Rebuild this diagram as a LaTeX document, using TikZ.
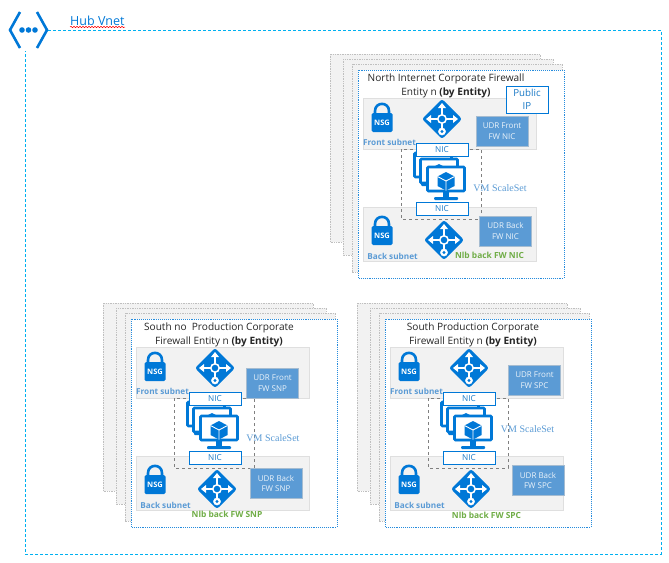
\documentclass[tikz,border=0pt]{standalone}
\usepackage{fontspec}
\setmainfont{Open Sans}
\newfontfamily\vmfont{Liberation Serif}
\usetikzlibrary{decorations.pathmorphing}

\definecolor{azure}{HTML}{0078D7}
\definecolor{udrblue}{HTML}{5B9BD5}
\definecolor{nlbgreen}{HTML}{70AD47}
\definecolor{hubcyan}{HTML}{00B0F0}
\definecolor{subnetgray}{HTML}{F2F2F2}

\tikzset{
  stackframe/.style={draw=gray!50,densely dotted,fill=subnetgray,line width=.7pt},
  mainframe/.style={draw=azure!85!white,densely dotted,fill=white,line width=.9pt},
  subnetbox/.style={draw=gray!25,fill=subnetgray,line width=.8pt,inner sep=0pt,minimum width=173pt},
  udrbox/.style={draw=udrblue!60!gray!60,fill=udrblue,text=white!88!udrblue,line width=.8pt,inner sep=0pt,
    minimum width=52pt,minimum height=30pt,align=center,font=\fontsize{8}{10.5}\selectfont},
  nicbox/.style={draw=azure,fill=white,text=azure!80!gray,line width=.7pt,inner sep=0pt,
    minimum width=52pt,minimum height=13pt,font=\fontsize{8.2}{9}\selectfont},
  subnetlabel/.style={text=udrblue,inner sep=0pt,font=\fontsize{8.2}{9}\selectfont\bfseries},
  nlblabel/.style={text=nlbgreen,inner sep=0pt,font=\fontsize{8.4}{9}\selectfont\bfseries},
  vmlabel/.style={text=udrblue,inner sep=0pt,font=\vmfont\fontsize{10}{11}\selectfont},
  titlelabel/.style={text=black!85,inner sep=0pt,align=center,font=\fontsize{10.1}{14}\selectfont},
  nsg/.pic={
    \draw[azure,line width=2.6pt] (-7,-8) -- (-7,-11) .. controls (-7,-20.5) and (7,-20.5) .. (7,-11) -- (7,-8);
    \fill[azure,rounded corners=1.5pt] (-10.5,-9) rectangle (10.5,10);
    \node[text=white,inner sep=0pt,font=\fontsize{7.5}{8}\selectfont\bfseries] (-nsgtext) at (0,1) {NSG};
  },
  router/.pic={
    \fill[azure,rounded corners=2.5pt] (-20,0) -- (0,-20) -- (20,0) -- (0,20) -- cycle;
    \draw[white,line width=1.5pt] (0,-4) -- (0,-12) (-4,0) -- (-12,0) (4,0) -- (12,0) (0,4) -- (0,9);
    \fill[white] (0,-16) -- (-4,-11) -- (4,-11) -- cycle;
    \fill[white] (-16,0) -- (-11,-4) -- (-11,4) -- cycle;
    \fill[white] (16,0) -- (11,-4) -- (11,4) -- cycle;
    \draw[white,line width=1.5pt] (0,0) circle (4.2);
    \draw[white,fill=white] (0,12.5) circle (3.6);
    \fill[azure] (0,12.5) circle (1.6);
  },
  vmunit/.pic={
    \draw[azure,fill=white,line width=2.6pt,rounded corners=1pt] (-18.5,-12) rectangle (18.5,12);
    \fill[azure] (-3,12) rectangle (3,20);
    \fill[azure,rounded corners=1pt] (-12,18) rectangle (12,21);
    % cube
    \fill[azure] (0,-7) -- (8.5,-2.5) -- (8.5,7) -- (0,11.5) -- (-8.5,7) -- (-8.5,-2.5) -- cycle;
    \draw[white,line width=.9pt] (-8.5,-2.5) -- (0,2) -- (8.5,-2.5) (0,2) -- (0,11.5);
  }
}

% #1 name, #2 shift, #3 title, #4 udr front, #5 udr back, #6 suffix, #7 nlb label, #8 scaleset label
\newcommand{\fwblock}[8]{
  \begin{scope}[shift={(#2)}]
    \draw[stackframe] (330,54) rectangle (540,242);
    \draw[stackframe] (343,59) rectangle (553,255);
    \draw[stackframe] (352,64) rectangle (562,272);
    \draw[mainframe] (358,70) rectangle (564,278);
    \node[titlelabel] (#1-title) at (446,86.2) {#3};

    \node[subnetbox,minimum height=51pt] (#1-front) at (449.5,123.5) {};
    \node[subnetbox,minimum height=54pt] (#1-back) at (449.5,234) {};
    \draw[gray,dashed,line width=.8pt] (401,149) rectangle (481,219);

    \pic at (382,122) {nsg};
    \pic at (382,235) {nsg};
    \pic at (442,119) {router};
    \pic at (444,240) {router};
    \node[udrbox] (#1-udrfront) at (#4) {UDR Front\\#6};
    \node[udrbox] (#1-udrback) at (#5) {UDR Back\\#6};

    \foreach \vmx/\vmy in {433/165, 439/171, 446/179}
      \pic at (\vmx,\vmy) {vmunit};
    \node[nicbox] (#1-nictop) at (442,149.5) {NIC};
    \node[nicbox] (#1-nicbot) at (442,208.5) {NIC};

    \node[subnetlabel] (#1-frontlabel) at (389.5,142.5) {Front subnet};
    \node[subnetlabel] (#1-backlabel) at (392.5,256) {Back subnet};
    \node[nlblabel] (#1-nlb) at (#7) {Nlb back #6};
    \node[vmlabel] (#1-vmss) at (#8) {VM ScaleSet};
  \end{scope}
}

\begin{document}
\begin{tikzpicture}[x=1pt,y=-1pt]
  \useasboundingbox (0,0) rectangle (669,562);

  % hub frame and icon
  \coordinate (hubstart) at (48,30);
  \coordinate (hubend) at (25,51);
  \draw[hubcyan,densely dashed,line width=.8pt] (hubstart) -- (661,30) -- (661,554) -- (25,554) -- (hubend);
  \draw[azure,line width=2.6pt] (20,12) -- (10,30) -- (20,48) (37,12) -- (47,30) -- (37,48);
  \foreach \dotx in {22,28.5,35}
    \fill[azure] (\dotx,30) circle (2.8);
  \node[text=azure,inner sep=0pt,anchor=west,font=\fontsize{12.5}{14}\selectfont] (hubname) at (70,20.5) {Hub Vnet};
  \draw[red,line width=.5pt,decorate,decoration={snake,amplitude=.7pt,segment length=3pt}]
    (70,27) -- (125,27);

  \fwblock{north}{0,0}{North Internet Corporate Firewall\\Entity n \textbf{(by Entity)}}
    {502,131}{505.5,231}{FW NIC}{489.5,255}{500,188}
  \fwblock{snp}{-227,249}{South no\ \ Production Corporate\\Firewall Entity n \textbf{(by Entity)}}
    {499.5,134}{503,234.5}{FW SNP}{454,265}{500,189}
  \fwblock{spc}{27,249}{South Production Corporate\\Firewall Entity n \textbf{(by Entity)}}
    {507.5,131}{511,231.5}{FW SPC}{459.5,266}{500.5,180}

  \node[draw=azure,fill=white,text=azure!80!gray,line width=.8pt,inner sep=0pt,minimum width=42pt,minimum height=27pt,
    align=center,font=\fontsize{9.7}{12.5}\selectfont] (publicip) at (527,99.5) {Public\\IP};
\end{tikzpicture}
\end{document}
